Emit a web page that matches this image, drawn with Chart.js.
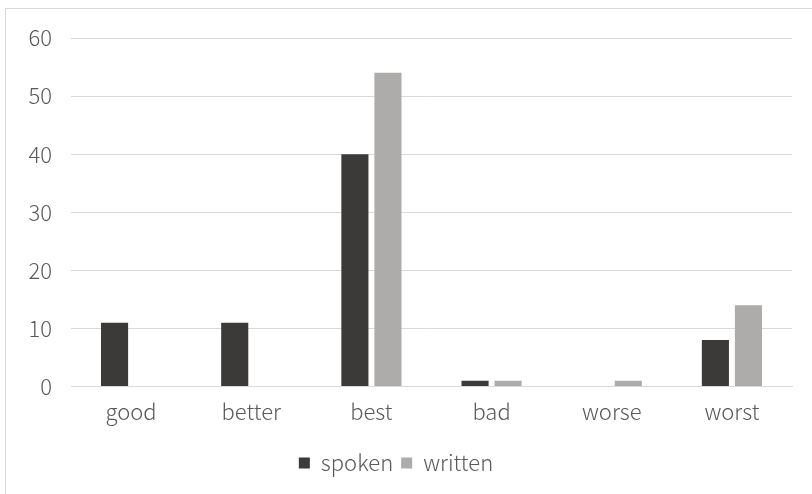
<!DOCTYPE html>
<html>
<head>
<meta charset="utf-8">
<script src="https://cdn.jsdelivr.net/npm/chart.js@4.4.1/dist/chart.umd.min.js"></script>
<style>
    html, body { margin: 0; padding: 0; background: #fff; overflow: hidden; }
    #frame {
        position: absolute; left: 5px; top: 8px; width: 900px; height: 600px;
        border-left: 1px solid #d9d9d9; border-top: 1px solid #d9d9d9;
    }
    #wrap { position: absolute; left: 0; top: 0; width: 812px; height: 494px; }
</style>
</head>
<body>
<div id="frame"></div>
<div id="wrap"><canvas id="chart"></canvas></div>
<script>
// Categorías y valores de cada serie
const categorias = ['good', 'better', 'best', 'bad', 'worse', 'worst'];
const spoken = [11, 11, 40, 1, 0, 8];
const written = [0, 0, 54, 1, 1, 14];
const ticksY = [0, 10, 20, 30, 40, 50, 60];

const fuente = "'Noto Sans CJK SC', 'Noto Sans', sans-serif";
const colorTexto = '#595959';
const colorGrid = '#d9d9d9';

document.addEventListener('DOMContentLoaded', function() {
    const ctx = document.getElementById('chart').getContext('2d');

    new Chart(ctx, {
        type: 'bar',
        data: {
            labels: categorias,
            datasets: [
                {
                    label: 'spoken',
                    data: spoken,
                    backgroundColor: '#3b3a38',
                    categoryPercentage: 0.55,
                    barPercentage: 0.82
                },
                {
                    label: 'written',
                    data: written,
                    backgroundColor: '#aeabab',
                    categoryPercentage: 0.55,
                    barPercentage: 0.82
                }
            ]
        },
        options: {
            responsive: true,
            maintainAspectRatio: false,
            animation: false,
            layout: { padding: { left: 0, top: 38, right: 20, bottom: 10 } },
            plugins: {
                tooltip: { enabled: false },
                legend: {
                    position: 'bottom',
                    labels: {
                        boxWidth: 11,
                        boxHeight: 11,
                        padding: 8,
                        color: colorTexto,
                        font: { family: fuente, size: 22, weight: 300 }
                    }
                }
            },
            scales: {
                x: {
                    grid: { display: false, drawTicks: false },
                    border: { display: true, color: colorGrid },
                    afterFit: function(axis) {
                        axis.height = axis.height + 7;
                    },
                    ticks: {
                        padding: 12,
                        color: colorTexto,
                        font: { family: fuente, size: 22, weight: 300 }
                    }
                },
                y: {
                    min: 0,
                    max: 60,
                    afterBuildTicks: function(axis) {
                        axis.ticks = ticksY.map(v => ({ value: v }));
                    },
                    afterFit: function(axis) {
                        axis.width = 71;
                    },
                    grid: { color: colorGrid, drawTicks: false },
                    border: { display: false },
                    ticks: {
                        padding: 19,
                        color: colorTexto,
                        font: { family: fuente, size: 22, weight: 300 }
                    }
                }
            }
        }
    });
});
</script>
</body>
</html>
